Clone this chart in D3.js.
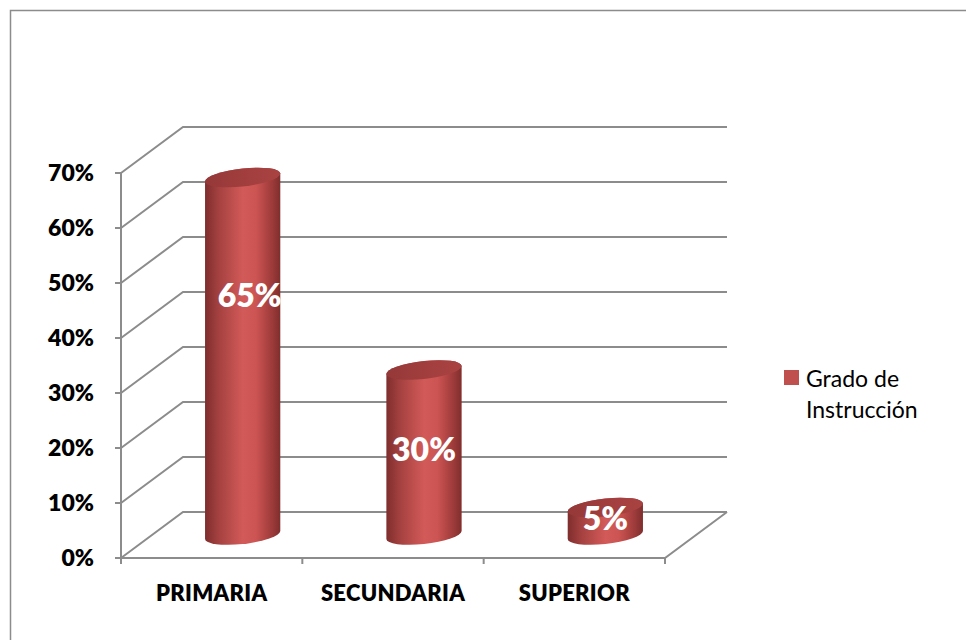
<!DOCTYPE html>
<html>
<head>
<meta charset="utf-8">
<script src="https://cdn.jsdelivr.net/npm/d3@7/dist/d3.min.js"></script>
<style>
  html, body { margin: 0; padding: 0; background: #fff; }
  svg { display: block; }
  text { font-family: Lato, "Open Sans", "DejaVu Sans", sans-serif; }
</style>
</head>
<body>
<svg id="chart" width="966" height="640"></svg>
<script>
// Grado de instrucción
const categories = ["PRIMARIA", "SECUNDARIA", "SUPERIOR"];
const values = [65, 30, 5];
const seriesName = "Grado de Instrucción";
const yTicks = [0, 10, 20, 30, 40, 50, 60, 70];
// where each value label sits along its cylinder (same units as the y axis)
const labelAnchors = [43.5, 15.5, 3];

const svg = d3.select("#chart");

// chart frame
svg.append("rect")
  .attr("x", 10.5).attr("y", 10.5)
  .attr("width", 1000).attr("height", 1000)
  .attr("fill", "#fff").attr("stroke", "#8c8c8c").attr("stroke-width", 1.5);

// front plane scales; the back wall is offset by the depth vector
const x = d3.scaleBand().domain(categories).range([121, 665]).paddingInner(0).paddingOuter(0);
const y = d3.scaleLinear().domain([0, 70]).range([558, 173]);
const depth = { dx: 62, dy: -46 };
const xRight = 665;

const gridColor = "#8c8c8c";
const grid = svg.append("g").attr("fill", "none").attr("stroke", gridColor).attr("stroke-width", 2);

// gridlines: diagonal on the left side wall, then across the back wall
yTicks.forEach(t => {
  const yf = y(t);
  grid.append("path")
    .attr("d", `M${x.range()[0]},${yf} L${x.range()[0] + depth.dx},${yf + depth.dy} L${xRight + depth.dx},${yf + depth.dy}`);
});
// floor front edge and right floor edge
grid.append("path")
  .attr("d", `M${x.range()[0]},${y(0)} L${xRight},${y(0)} L${xRight + depth.dx},${y(0) + depth.dy}`);

// value axis
const axisG = svg.append("g").attr("stroke", gridColor).attr("stroke-width", 2);
axisG.append("line")
  .attr("x1", 121).attr("x2", 121)
  .attr("y1", y(70)).attr("y2", y(0) + 6);
axisG.selectAll("line.tick").data(yTicks).join("line")
  .attr("class", "tick")
  .attr("x1", 115).attr("x2", 121)
  .attr("y1", d => y(d)).attr("y2", d => y(d));

// category axis ticks at band boundaries
const bounds = categories.map(c => x(c)).concat([x.range()[1]]);
axisG.selectAll("line.ctick").data(bounds).join("line")
  .attr("class", "ctick")
  .attr("x1", d => d).attr("x2", d => d)
  .attr("y1", y(0)).attr("y2", y(0) + 6);

// tick labels
svg.append("g").selectAll("text").data(yTicks).join("text")
  .attr("x", 94).attr("y", d => y(d))
  .attr("dy", "0.36em")
  .attr("text-anchor", "end")
  .attr("font-size", 23).attr("font-weight", 800).attr("fill", "#000")
  .text(d => d + "%");

// category labels
svg.append("g").selectAll("text").data(categories).join("text")
  .attr("x", d => x(d) + x.bandwidth() / 2).attr("y", 593)
  .attr("dy", "0.36em")
  .attr("text-anchor", "middle")
  .attr("font-size", 22).attr("font-weight", 800).attr("fill", "#000")
  .attr("letter-spacing", 0.3)
  .text(d => d);

// gradients for the cylinders
const defs = svg.append("defs");
const rx = x.bandwidth() * 0.415 / 2;
const ry = 9;
const bodyGrad = defs.append("linearGradient").attr("id", "cylBody")
  .attr("gradientUnits", "userSpaceOnUse")
  .attr("x1", -rx).attr("x2", rx).attr("y1", 0).attr("y2", 0);
[[0, "#7e2e2d"], [0.18, "#a44140"], [0.5, "#d25a58"], [0.68, "#cc5452"], [0.9, "#9a3a39"], [1, "#7f2e2d"]]
  .forEach(([o, c]) => bodyGrad.append("stop").attr("offset", o).attr("stop-color", c));
const capGrad = defs.append("linearGradient").attr("id", "cylTop")
  .attr("gradientUnits", "userSpaceOnUse")
  .attr("x1", -rx).attr("x2", rx).attr("y1", 0).attr("y2", 0);
[[0, "#953838"], [0.6, "#a33f3e"], [1, "#a84342"]]
  .forEach(([o, c]) => capGrad.append("stop").attr("offset", o).attr("stop-color", c));

// cylinders at mid depth
const mid = { dx: depth.dx / 2, dy: depth.dy / 2 };
const skew = -6;
const cyl = svg.append("g").selectAll("g").data(values).join("g")
  .attr("transform", (d, i) => `translate(${x(categories[i]) + x.bandwidth() / 2 + mid.dx},0) skewY(${skew})`);

cyl.append("path")
  .attr("fill", "url(#cylBody)")
  .attr("d", d => {
    const yt = y(d) + mid.dy, yb = y(0) + mid.dy;
    return `M${-rx},${yt} L${-rx},${yb} A${rx},${ry} 0 0 0 ${rx},${yb} L${rx},${yt} A${rx},${ry} 0 0 0 ${-rx},${yt} Z`;
  });
cyl.append("ellipse")
  .attr("cx", 0).attr("cy", d => y(d) + mid.dy)
  .attr("rx", rx).attr("ry", ry)
  .attr("fill", "url(#cylTop)");

// value labels
svg.append("g").selectAll("text").data(values).join("text")
  .attr("x", (d, i) => x(categories[i]) + x.bandwidth() / 2 + mid.dx + (i === 0 ? 7 : 0))
  .attr("y", (d, i) => y(labelAnchors[i]) + mid.dy)
  .attr("dy", "0.36em")
  .attr("text-anchor", "middle")
  .attr("font-size", 32).attr("font-weight", 800).attr("fill", "#fff")
  .text(d => d + "%");

// legend
const legend = svg.append("g");
legend.append("rect")
  .attr("x", 784).attr("y", 370).attr("width", 15).attr("height", 15)
  .attr("fill", "#c0504d");
legend.append("text")
  .attr("x", 806).attr("y", 387)
  .attr("font-size", 23).attr("fill", "#000")
  .text("Grado de");
legend.append("text")
  .attr("x", 806).attr("y", 418)
  .attr("font-size", 23).attr("fill", "#000")
  .text(seriesName.split(" ").slice(2).join(" "));
</script>
</body>
</html>
